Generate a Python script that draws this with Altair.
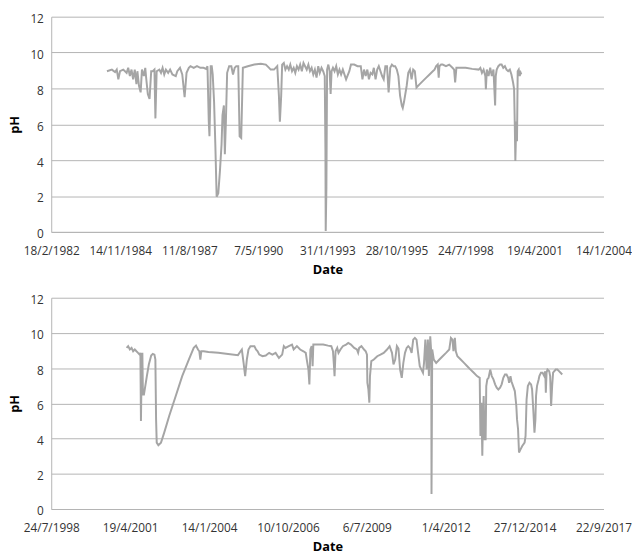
import altair as alt
import pandas as pd

# Dates are Excel serial day numbers (as on the original Excel date axis)
top_serial = [30807, 30878, 30925, 30949, 30972, 30996, 31043, 31092, 31115, 31139,
              31163, 31186, 31210, 31234, 31248, 31271, 31295, 31314, 31342, 31362,
              31377, 31399, 31424, 31448, 31470, 31495, 31509, 31527, 31566, 31590,
              31613, 31637, 31661, 31694, 31722, 31755, 31804, 31826, 31865, 31898,
              31932, 31960, 31993, 32017, 32064, 32111, 32159, 32206, 32245, 32263,
              32282, 32292, 32302, 32310, 32325, 32339, 32359, 32377, 32396, 32420,
              32444, 32467, 32481, 32501, 32515, 32530, 32548, 32577, 32609, 32633,
              32658, 32680, 32709, 32729, 32752, 32776, 32847, 32942, 33036, 33108,
              33156, 33179, 33227, 33274, 33298, 33312, 33331, 33345, 33369, 33392,
              33416, 33441, 33463, 33488, 33512, 33535, 33559, 33583, 33606, 33630,
              33654, 33677, 33701, 33725, 33748, 33772, 33796, 33819, 33843, 33868,
              33890, 33915, 33939, 33962, 33972, 33976, 33986, 33996, 34014, 34033,
              34047, 34061, 34081, 34104, 34128, 34152, 34175, 34199, 34224, 34271,
              34318, 34342, 34389, 34437, 34484, 34508, 34531, 34555, 34579, 34602,
              34626, 34651, 34673, 34698, 34722, 34745, 34793, 34816, 34840, 34864,
              34887, 34911, 34935, 34958, 34982, 35006, 35029, 35053, 35078, 35092,
              35110, 35149, 35172, 35196, 35220, 35243, 35267, 35291, 35338, 35385,
              35433, 35480, 35527, 35552, 35576, 35599, 35613, 35623, 35647, 35670,
              35718, 35765, 35812, 35836, 35851, 35869, 35908, 36003, 36097, 36192,
              36216, 36239, 36263, 36288, 36296, 36310, 36335, 36359, 36382, 36406,
              36430, 36439, 36453, 36477, 36501, 36524, 36548, 36572, 36595, 36619,
              36643, 36666, 36690, 36705, 36715, 36723, 36737, 36747, 36757, 36772,
              36786, 36800, 36809]
top_ph = [8.96, 9.05, 8.91, 9.05, 8.51, 8.96, 9.05, 8.87, 9.15, 8.69,
          9.05, 8.51, 9.05, 8.24, 8.96, 8.15, 7.78, 9.05, 8.69, 9.15,
          8.51, 7.69, 7.42, 8.96, 8.96, 9.05, 6.33, 8.96, 9.05, 8.87,
          9.15, 8.78, 9.05, 8.87, 9.05, 8.78, 8.69, 8.96, 9.15, 8.78,
          7.51, 8.87, 9.15, 9.24, 9.15, 9.24, 9.15, 9.15, 9.09, 9.24,
          6.15, 5.33, 7.05, 9.24, 9.24, 8.78, 7.24, 4.87, 1.96, 2.15,
          3.42, 4.87, 6.51, 7.05, 4.33, 6.15, 8.87, 9.24, 9.24, 8.78,
          9.15, 9.24, 9.24, 5.33, 5.24, 9.15, 9.24, 9.33, 9.38, 9.33,
          9.15, 9.05, 9.05, 9.24, 7.60, 6.15, 7.60, 9.33, 9.42, 9.05,
          9.24, 9.05, 9.33, 8.96, 9.15, 8.87, 9.24, 9.05, 9.33, 8.96,
          9.42, 9.24, 9.05, 9.33, 8.96, 9.15, 8.78, 9.05, 8.60, 9.24,
          8.87, 9.15, 8.96, 8.69, 4.51, 0.05, 2.51, 9.05, 9.33, 8.96,
          7.69, 8.96, 9.15, 8.96, 9.24, 8.78, 9.05, 8.78, 9.05, 8.51,
          8.96, 9.33, 9.33, 9.24, 9.24, 8.51, 9.05, 8.69, 9.05, 8.51,
          8.87, 8.78, 9.15, 8.51, 9.05, 9.24, 8.69, 8.51, 9.24, 9.24,
          7.78, 9.15, 9.33, 9.24, 9.24, 9.05, 8.69, 7.60, 7.05, 6.91,
          7.24, 8.15, 8.87, 9.05, 8.51, 9.05, 8.96, 8.05, 8.24, 8.42,
          8.60, 8.78, 8.96, 9.05, 9.24, 9.33, 8.60, 9.24, 9.33, 9.33,
          9.24, 9.33, 9.15, 9.05, 8.33, 9.15, 9.15, 9.15, 9.09, 9.05,
          9.15, 8.87, 9.05, 8.69, 7.96, 9.05, 8.69, 9.15, 8.69, 9.05,
          7.05, 8.69, 9.05, 9.24, 9.33, 9.33, 9.15, 9.24, 9.05, 8.96,
          9.05, 8.78, 8.33, 7.96, 5.96, 3.96, 6.15, 5.05, 8.96, 9.05,
          8.69, 8.87, 8.78]

bottom_serial = [36955, 36975, 36996, 37018, 37038, 37059, 37080, 37100, 37121, 37130,
                 37137, 37146, 37155, 37162, 37175, 37192, 37212, 37237, 37267, 37287,
                 37308, 37320, 37329, 37337, 37358, 37391, 37432, 37495, 37578, 37660,
                 37744, 37806, 37835, 37860, 37877, 37890, 37902, 37931, 37993, 38118,
                 38242, 38367, 38400, 38416, 38438, 38458, 38479, 38500, 38525, 38553,
                 38575, 38595, 38616, 38637, 38678, 38719, 38762, 38803, 38844, 38886,
                 38927, 38948, 38968, 39011, 39052, 39073, 39114, 39155, 39197, 39226,
                 39239, 39260, 39272, 39285, 39301, 39313, 39322, 39342, 39384, 39447,
                 39509, 39550, 39571, 39584, 39591, 39604, 39625, 39641, 39666, 39696,
                 39737, 39765, 39799, 39840, 39874, 39890, 39903, 39932, 39965, 39986,
                 40002, 40007, 40020, 40032, 40040, 40057, 40089, 40132, 40173, 40214,
                 40256, 40289, 40319, 40338, 40360, 40381, 40401, 40422, 40443, 40463,
                 40484, 40505, 40525, 40546, 40568, 40588, 40609, 40630, 40650, 40671,
                 40692, 40712, 40725, 40742, 40758, 40774, 40787, 40804, 40817, 40820,
                 40829, 40849, 40879, 40920, 40961, 41004, 41045, 41066, 41086, 41098,
                 41116, 41128, 41148, 41190, 41232, 41273, 41315, 41356, 41397, 41431,
                 41440, 41452, 41464, 41472, 41481, 41493, 41506, 41514, 41527, 41543,
                 41564, 41584, 41605, 41626, 41646, 41667, 41689, 41709, 41730, 41751,
                 41771, 41792, 41804, 41821, 41833, 41854, 41876, 41895, 41904, 41917,
                 41929, 41950, 41970, 42000, 42012, 42025, 42041, 42062, 42082, 42095,
                 42112, 42125, 42137, 42145, 42157, 42178, 42187, 42207, 42228, 42249,
                 42262, 42269, 42278, 42290, 42312, 42324, 42336, 42349, 42361, 42394,
                 42415, 42436, 42456, 42477]
bottom_ph = [9.15, 9.25, 9.06, 9.15, 8.96, 9.06, 8.96, 8.87, 8.77, 8.87,
             5.00, 7.92, 8.87, 6.51, 6.51, 6.98, 7.55, 8.21, 8.72, 8.81,
             8.77, 8.49, 5.09, 3.77, 3.62, 3.77, 4.34, 5.28, 6.42, 7.55,
             8.49, 9.15, 9.28, 9.06, 8.96, 8.49, 8.96, 8.96, 8.92, 8.87,
             8.81, 8.74, 8.96, 9.06, 8.30, 7.55, 8.49, 9.06, 9.25, 9.25,
             9.25, 9.06, 8.96, 8.77, 8.68, 8.72, 8.87, 8.77, 8.87, 8.58,
             8.77, 9.25, 9.15, 9.25, 9.34, 9.06, 9.25, 9.06, 8.96, 8.87,
             8.49, 7.92, 7.08, 9.06, 9.25, 8.11, 9.34, 9.34, 9.34, 9.34,
             9.28, 9.25, 8.96, 8.11, 7.55, 8.96, 9.15, 8.87, 9.06, 9.25,
             9.34, 9.43, 9.34, 9.15, 9.06, 8.87, 9.15, 9.25, 9.06, 8.96,
             8.77, 7.17, 6.79, 6.04, 7.55, 8.40, 8.49, 8.68, 8.77, 8.87,
             9.06, 9.25, 8.87, 8.21, 8.49, 9.25, 9.11, 7.92, 7.45, 8.30,
             8.87, 9.15, 9.25, 9.15, 8.87, 9.62, 9.72, 9.62, 8.87, 8.11,
             7.92, 7.74, 8.30, 9.62, 7.92, 9.62, 7.55, 9.81, 8.87, 0.85,
             9.06, 8.49, 8.30, 8.49, 8.68, 8.87, 9.06, 9.72, 9.62, 8.96,
             9.72, 8.96, 8.68, 8.49, 8.30, 8.11, 7.92, 7.74, 7.55, 7.45,
             4.15, 6.04, 3.02, 5.09, 6.42, 3.96, 3.96, 6.98, 7.36, 7.45,
             7.92, 7.55, 7.36, 7.08, 6.89, 6.79, 6.89, 7.08, 7.45, 7.64,
             7.64, 7.45, 7.17, 7.55, 7.26, 6.98, 6.70, 5.85, 5.09, 4.53,
             3.21, 3.40, 3.58, 3.77, 4.15, 6.23, 6.98, 7.17, 7.08, 6.79,
             5.47, 4.34, 5.09, 6.42, 6.98, 7.36, 7.55, 7.74, 7.74, 7.55,
             7.83, 6.60, 7.74, 7.92, 7.83, 7.55, 5.85, 6.98, 7.74, 7.92,
             7.92, 7.83, 7.74, 7.64]

top_ticks = [30000, 31000, 32000, 33000, 34000, 35000, 36000, 37000, 38000]
bottom_ticks = [36000, 37000, 38000, 39000, 40000, 41000, 42000, 43000]
ph_ticks = [0, 2, 4, 6, 8, 10, 12]

LINE = "#a5a5a5"
GRID = "#b4b4b4"
FONT = "Open Sans"

label_expr = "utcFormat((datum.value - 25569) * 86400000, '%-d/%-m/%Y')"


def panel(serials, ph, ticks, h):
    df = pd.DataFrame({"serial": serials, "ph": ph})
    return alt.Chart(df).mark_line(color=LINE, strokeWidth=2).encode(
        x=alt.X("serial:Q",
                scale=alt.Scale(domain=[ticks[0], ticks[-1]], nice=False, zero=False),
                axis=alt.Axis(values=ticks, labelExpr=label_expr, title="Date",
                              grid=False, ticks=False, domain=True, domainColor=GRID,
                              labelOverlap=False, labelFlush=False,
                              labelPadding=14, titlePadding=7)),
        y=alt.Y("ph:Q",
                scale=alt.Scale(domain=[0, 12], nice=False),
                axis=alt.Axis(values=ph_ticks, title="pH", grid=True, gridColor=GRID,
                              ticks=False, domain=True, domainColor=GRID,
                              labelPadding=8, labelOffset=2, titlePadding=9)),
    ).properties(width=562, height=h)


chart = alt.vconcat(
    panel(top_serial, top_ph, top_ticks, 219),
    panel(bottom_serial, bottom_ph, bottom_ticks, 215),
    spacing=18,
).properties(padding={"left": 0, "top": 0, "right": 0, "bottom": 0}
).configure_view(stroke=None
).configure_axis(labelFont=FONT, labelFontSize=12, labelColor="#333333",
                 titleFont=FONT, titleFontSize=13, titleFontWeight="bold",
                 titleColor="#000000")

chart.save("out.html", embed_options={"renderer": "svg", "actions": False})
